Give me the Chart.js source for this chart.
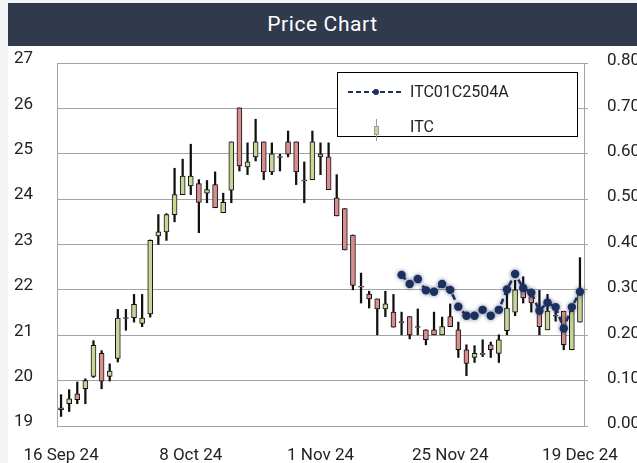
<!DOCTYPE html>
<html>
<head>
<meta charset="utf-8">
<script src="https://cdn.jsdelivr.net/npm/chart.js@4.4.1/dist/chart.umd.min.js"></script>
<style>
  html, body { margin: 0; padding: 0; background: #f2f3f5; width: 637px; height: 463px; overflow: hidden; }
  #card { position: absolute; left: 8px; top: 3px; width: 629px; height: 460px; background: #ffffff; }
  #title { position: absolute; left: 8px; top: 3px; width: 629px; height: 43px; background: #313a4d;
           color: #ffffff; font-family: Roboto, sans-serif; font-weight: 400; font-size: 21px;
           letter-spacing: 0.6px; line-height: 43px; text-align: center; }
  #c { position: absolute; left: 0; top: 0; }
</style>
</head>
<body>
<div id="card"></div>
<div id="title">Price Chart</div>
<canvas id="c" width="637" height="463"></canvas>
<script>
// ---- data ----
const dates = [
  '16 Sep 24','17 Sep 24','18 Sep 24','19 Sep 24','20 Sep 24','23 Sep 24','24 Sep 24','25 Sep 24',
  '26 Sep 24','27 Sep 24','30 Sep 24','1 Oct 24','2 Oct 24','3 Oct 24','4 Oct 24','7 Oct 24',
  '8 Oct 24','9 Oct 24','10 Oct 24','15 Oct 24','16 Oct 24','17 Oct 24','18 Oct 24','21 Oct 24',
  '22 Oct 24','23 Oct 24','24 Oct 24','25 Oct 24','28 Oct 24','29 Oct 24','30 Oct 24','31 Oct 24',
  '1 Nov 24','4 Nov 24','5 Nov 24','6 Nov 24','7 Nov 24','8 Nov 24','11 Nov 24','12 Nov 24',
  '13 Nov 24','14 Nov 24','15 Nov 24','18 Nov 24','19 Nov 24','20 Nov 24','21 Nov 24','22 Nov 24',
  '25 Nov 24','28 Nov 24','29 Nov 24','2 Dec 24','3 Dec 24','4 Dec 24','5 Dec 24','6 Dec 24',
  '9 Dec 24','10 Dec 24','11 Dec 24','12 Dec 24','13 Dec 24','16 Dec 24','17 Dec 24','18 Dec 24',
  '19 Dec 24'
];
const tickLabelEvery = 16;

const openPrices = [
  19.36,19.49,19.71,19.82,20.09,20.60,20.09,20.49,21.37,21.39,21.26,21.47,23.19,23.28,23.66,24.10,
  24.29,24.34,24.13,24.32,23.70,24.20,26.01,24.71,24.93,25.26,24.60,24.94,25.26,25.26,24.42,24.43,
  25.00,24.93,24.03,23.79,23.21,22.08,21.91,21.80,21.58,21.51,21.30,21.41,21.19,21.12,21.12,21.01,
  21.41,21.12,20.68,20.51,20.60,20.79,20.60,21.10,21.51,22.02,21.85,21.51,21.12,21.44,21.53,20.68,
  21.29
];
const highPrices = [
  19.69,19.80,19.97,20.04,20.88,20.66,20.37,21.57,21.57,21.90,21.90,23.10,23.66,23.68,24.68,24.88,
  25.21,24.43,24.41,24.60,24.13,25.26,26.01,25.24,25.76,25.26,25.24,24.99,25.50,25.26,24.82,25.50,
  25.24,25.24,24.54,23.79,23.21,22.37,21.97,21.80,21.97,21.90,21.51,21.41,21.58,21.12,21.51,21.40,
  21.69,21.29,20.79,20.77,20.90,20.85,21.01,22.00,22.21,22.29,22.00,21.99,21.90,21.56,21.53,21.53,
  22.71
];
const lowPrices = [
  19.21,19.32,19.49,19.49,20.07,19.82,19.99,20.41,21.11,21.29,21.19,21.40,23.00,23.09,23.50,24.10,
  24.10,23.26,23.92,23.81,23.70,23.92,24.62,24.54,24.84,24.43,24.54,24.62,24.93,24.32,23.92,24.43,
  24.54,24.21,23.63,22.88,22.00,21.71,21.60,21.01,21.41,21.18,21.01,20.92,21.01,20.79,21.01,21.01,
  21.19,20.51,20.11,20.40,20.53,20.51,20.40,21.01,21.43,21.71,21.51,21.01,21.12,21.31,20.68,20.68,
  21.29
];
const closePrices = [
  19.40,19.60,19.58,20.00,20.78,19.99,20.21,21.38,21.39,21.68,21.38,23.09,23.28,23.66,24.10,24.51,
  24.51,23.93,24.21,23.81,23.93,25.26,24.73,24.82,25.26,24.60,25.00,24.92,24.99,24.60,24.40,25.26,
  24.93,24.21,23.63,22.88,22.10,22.06,21.80,21.58,21.69,21.18,21.28,21.01,21.17,20.90,21.01,21.19,
  21.19,20.68,20.38,20.60,20.58,20.68,20.90,21.60,22.00,21.82,21.71,21.19,21.53,21.42,20.79,21.53,
  21.91
];

// option series (right axis), starts at category index optionStart
const optionStart = 42;
const optionPrices = [
  0.333,0.313,0.324,0.299,0.296,0.313,0.300,0.263,0.243,0.243,0.256,0.243,
  0.256,0.301,0.335,0.304,0.294,0.254,0.272,0.262,0.215,0.262,0.296
];

const leftTicks = { min: 19, max: 27, step: 1 };
const rightTicks = { min: 0, max: 0.8, step: 0.1 };
const seriesNames = ['ITC01C2504A', 'ITC'];

// ---- styles ----
const UP = '#c5d697', DOWN = '#d98d8d', NAVY = '#1c2f5e', GRID = '#a3a3a3', TXT = '#222222';
const FONT = { family: 'Roboto, sans-serif', size: 17 };

const bodyData = openPrices.map((o, i) => [o, closePrices[i]]);
const wickData = lowPrices.map((l, i) => [l, highPrices[i]]);
const bodyColors = openPrices.map((o, i) => closePrices[i] >= o ? UP : DOWN);
const lineData = dates.map((_, i) => i >= optionStart ? optionPrices[i - optionStart] : null);

const shadowPlugin = {
  id: 'shadow',
  beforeDatasetDraw(chart, args) {
    if (args.index === 0) {
      chart.ctx.save();
      chart.ctx.shadowColor = 'rgba(28,47,94,0.6)';
      chart.ctx.shadowBlur = 4;
    }
  },
  afterDatasetDraw(chart, args) {
    if (args.index === 0) chart.ctx.restore();
  }
};

const legendPlugin = {
  id: 'boxLegend',
  afterDraw(chart) {
    const ctx = chart.ctx;
    ctx.save();
    const x = 337.5, y = 72.5, w = 240, h = 64;
    ctx.fillStyle = '#ffffff';
    ctx.fillRect(x, y, w, h);
    ctx.strokeStyle = '#000000';
    ctx.lineWidth = 1;
    ctx.strokeRect(x, y, w, h);
    // line entry
    ctx.strokeStyle = NAVY;
    ctx.lineWidth = 2;
    ctx.setLineDash([5, 3]);
    ctx.beginPath(); ctx.moveTo(348, 92); ctx.lineTo(402, 92); ctx.stroke();
    ctx.setLineDash([]);
    ctx.fillStyle = NAVY;
    ctx.beginPath(); ctx.arc(376, 92, 3, 0, Math.PI * 2); ctx.fill();
    // candle entry
    ctx.strokeStyle = '#9a9a9a';
    ctx.lineWidth = 1;
    ctx.beginPath(); ctx.moveTo(376.5, 119); ctx.lineTo(376.5, 141); ctx.stroke();
    ctx.fillStyle = UP;
    ctx.fillRect(374.5, 126.5, 4, 8);
    ctx.strokeRect(374.5, 126.5, 4, 8);
    // texts
    ctx.fillStyle = TXT;
    ctx.font = '16px Roboto, sans-serif';
    ctx.textBaseline = 'middle';
    ctx.textAlign = 'left';
    ctx.fillText(chart.data.datasets[0].label, 410, 93);
    ctx.fillText(chart.data.datasets[1].label, 410, 128);
    ctx.restore();
  }
};

new Chart(document.getElementById('c'), {
  data: {
    labels: dates,
    datasets: [
      {
        type: 'line', label: seriesNames[0], data: lineData, yAxisID: 'y1', order: 0,
        borderColor: NAVY, borderWidth: 2.5, borderDash: [6, 4],
        pointRadius: 4.2, pointBackgroundColor: NAVY, pointBorderColor: NAVY, pointBorderWidth: 0,
        tension: 0, fill: false
      },
      {
        type: 'bar', label: seriesNames[1], data: bodyData, yAxisID: 'y', order: 1,
        backgroundColor: bodyColors, borderColor: '#111111', borderWidth: 1, borderSkipped: false,
        barThickness: 5, grouped: false
      },
      {
        type: 'bar', label: 'wick', data: wickData, yAxisID: 'y', order: 2,
        backgroundColor: '#111111', borderWidth: 0, barThickness: 1.6, grouped: false
      }
    ]
  },
  options: {
    responsive: false,
    animation: false,
    layout: { padding: { top: 63, left: 8, right: 0, bottom: 0 } },
    plugins: { legend: { display: false }, tooltip: { enabled: false }, title: { display: false } },
    scales: {
      x: {
        type: 'category', offset: true,
        grid: { display: false },
        border: { display: true, color: GRID, width: 1 },
        ticks: {
          autoSkip: false, maxRotation: 0, color: TXT, font: FONT, padding: 12,
          callback: (v, i) => (i % tickLabelEvery === 0 ? dates[i] : '')
        },
        afterFit: s => { s.height = 37; }
      },
      y: {
        position: 'left', min: leftTicks.min, max: leftTicks.max,
        grid: { color: GRID, lineWidth: 1, drawTicks: false },
        border: { display: true, color: GRID, width: 1 },
        ticks: { stepSize: leftTicks.step, color: TXT, font: FONT, padding: 24, labelOffset: -4 },
        afterFit: s => { s.width = 49; }
      },
      y1: {
        position: 'right', min: rightTicks.min, max: rightTicks.max,
        grid: { drawOnChartArea: false, color: GRID, tickLength: 4 },
        border: { display: true, color: GRID, width: 1 },
        ticks: { stepSize: rightTicks.step, color: TXT, font: FONT, padding: 19, labelOffset: -2,
                 callback: v => Number(v).toFixed(2) },
        afterFit: s => { s.width = 53; }
      }
    }
  },
  plugins: [shadowPlugin, legendPlugin]
});
</script>
</body>
</html>
